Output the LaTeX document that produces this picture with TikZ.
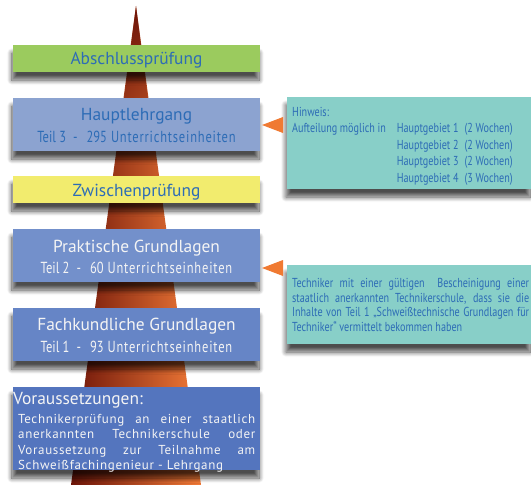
\documentclass[tikz,border=0pt]{standalone}
\usepackage{fontspec}
\setmainfont{PT Sans}
\newfontfamily\condf[FakeStretch=0.78]{PT Sans}
\newfontfamily\condls[FakeStretch=0.78,LetterSpace=5]{PT Sans}
\newfontfamily\vorf[LetterSpace=5]{PT Sans}
\usetikzlibrary{shadows.blur,fadings}
\hyphenpenalty=10000
\exhyphenpenalty=10000
\definecolor{cgreen}{HTML}{9BCB5E}
\definecolor{chaupt}{HTML}{8CA3D0}
\definecolor{cyellow}{HTML}{F2EC6E}
\definecolor{cprakt}{HTML}{7390CB}
\definecolor{cfach}{HTML}{6685C6}
\definecolor{cvor}{HTML}{5475BE}
\definecolor{cteal}{HTML}{88CFC8}
\definecolor{tblue}{HTML}{2D6CB6}
\definecolor{twhite}{HTML}{F4F4F4}
\definecolor{corange}{HTML}{F07A32}
\definecolor{conedark}{HTML}{6E1509}
\definecolor{conemid}{HTML}{E8672A}
\definecolor{coneright}{HTML}{F47C38}
\tikzset{
  box/.style={anchor=north west, minimum width=247pt, inner sep=0pt, outer sep=0pt,
    blur shadow={shadow xshift=-1pt, shadow yshift=-8pt, shadow blur radius=5pt, shadow blur steps=10, shadow opacity=70}},
  sidebox/.style={anchor=north west, minimum width=244pt, inner sep=0pt, outer sep=0pt, fill=cteal,
    blur shadow={shadow xshift=-1pt, shadow yshift=-8pt, shadow blur radius=5pt, shadow blur steps=10, shadow opacity=70}},
  head/.style={anchor=base, inner sep=0pt, font=\fontsize{17.4}{19}\selectfont},
  sub/.style={anchor=base, inner sep=0pt, font=\condf\fontsize{16}{18}\selectfont},
  marker/.style={fill=corange},
}
\newcommand{\teilline}[2]{Teil #1\hspace{7pt}-\hspace{9pt}#2\hspace{4pt}{\condls Unterrichtseinheiten}}
\begin{document}
\begin{tikzpicture}[x=1pt,y=-1pt]
\useasboundingbox (0,0) rectangle (531,485);
% cone
\coordinate (apex) at (136,6);
\shade[left color=conedark, middle color=conemid, right color=coneright] (apex) -- (201,485) -- (71,485) -- cycle;
\fill[conedark, path fading=south] (apex) -- (152,130) -- (120,130) -- cycle;
% left boxes
\node[box, fill=cgreen, minimum height=27pt] (absch) at (13,45) {};
\node[head, text=tblue] (abscht) at (136.5,64.5) {Abschlussprüfung};
\node[box, fill=chaupt, minimum height=53pt] (haupt) at (13,98) {};
\node[head, text=tblue] (haupt1) at (136.5,120) {Hauptlehrgang};
\node[sub, text=tblue] (haupt2) at (136.5,142) {\teilline{3}{295}};
\node[box, fill=cyellow, minimum height=27pt] (zwisch) at (13,176) {};
\node[head, text=tblue] (zwischt) at (136.5,196) {Zwischenprüfung};
\node[box, fill=cprakt, minimum height=53pt] (prakt) at (13,229) {};
\node[head, text=twhite] (prakt1) at (136.5,252) {Praktische Grundlagen};
\node[sub, text=twhite] (prakt2) at (136.5,273) {\teilline{2}{60}};
\node[box, fill=cfach, minimum height=53pt] (fach) at (13,308) {};
\node[head, text=twhite] (fach1) at (136.5,330) {Fachkundliche Grundlagen};
\node[sub, text=twhite] (fach2) at (136.5,352) {\teilline{1}{93}};
\node[box, fill=cvor, minimum height=83pt] (vor) at (13,387) {};
\node[anchor=base west, inner sep=0pt, text=twhite, font=\fontsize{17.4}{19}\selectfont] (vorh) at (13,404) {Voraussetzungen:};
\node[anchor=north west, inner sep=0pt, text=twhite, text width=237pt, align=justify,
  font=\vorf\fontsize{13}{15.4}\selectfont] (vorb) at (18,414)
  {Technikerprüfung an einer staatlich\linebreak anerkannten Technikerschule oder\linebreak Voraussetzung zur Teilnahme am\linebreak Schweißfachingenieur - Lehrgang};
% right boxes
\node[sidebox, minimum height=92pt] (hinw) at (287,97) {};
\node[anchor=base west, inner sep=0pt, text=tblue, font=\condf\fontsize{13}{16.5}\selectfont] (hinwt) at (292,116)
  {\begin{tabular}[t]{@{}l@{\hspace{11pt}}l@{}}
   Hinweis: & \\
   Aufteilung möglich in & Hauptgebiet 1\hspace{6pt}(2 Wochen)\\
   & Hauptgebiet 2\hspace{6pt}(2 Wochen)\\
   & Hauptgebiet 3\hspace{6pt}(2 Wochen)\\
   & Hauptgebiet 4\hspace{6pt}(3 Wochen)
   \end{tabular}};
\node[sidebox, minimum height=79pt] (tech) at (287,265) {};
\node[anchor=north west, inner sep=0pt, text=tblue, text width=237pt, align=justify,
  font=\condf\fontsize{13}{14.7}\selectfont] (techt) at (292,278)
  {Techniker mit einer gültigen \ Bescheinigung einer\linebreak staatlich anerkannten Technikerschule, dass sie die\linebreak Inhalte von Teil 1 „Schweißtechnische Grundlagen für\linebreak Techniker“ vermittelt bekommen haben};
% markers
\fill[marker] ([xshift=-25pt,yshift=-28pt]hinw.north west) -- ++(21,-8) -- ++(0,16) -- cycle;
\fill[marker] ([xshift=-25pt,yshift=-3pt]tech.north west) -- ++(21,-8) -- ++(0,16) -- cycle;
\end{tikzpicture}
\end{document}
